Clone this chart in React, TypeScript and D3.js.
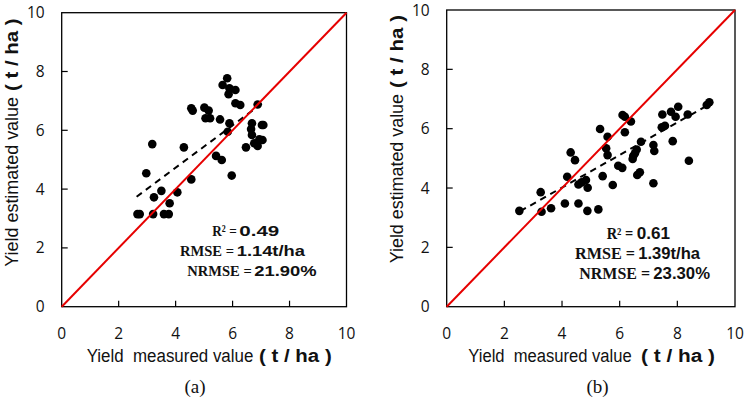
import React from 'react';
import * as d3 from 'd3';

const ticks = [0, 2, 4, 6, 8, 10];

const measuredA = [2.66, 2.74, 3.21, 3.59, 3.76, 2.97, 3.18, 3.24, 3.5, 3.79, 4.06, 4.55, 4.29, 4.55, 4.6, 5.01, 5.16, 5.05, 5.21, 5.42, 5.62, 5.97, 5.56, 5.89, 5.83, 5.81, 5.65, 5.89, 6.1, 5.86, 6.1, 6.27, 6.88, 6.68, 6.65, 7.03, 7.08, 6.68, 6.94, 7.05, 6.76, 6.88, 6.47];
const estimatedA = [3.15, 3.15, 3.15, 3.15, 3.15, 4.54, 5.53, 3.72, 3.94, 3.52, 3.89, 4.33, 5.42, 6.75, 6.67, 6.77, 6.67, 6.41, 6.41, 5.13, 4.99, 4.46, 6.37, 6.24, 5.95, 7.77, 7.54, 7.43, 7.37, 7.23, 6.92, 6.86, 6.88, 6.24, 6.04, 6.18, 6.18, 5.84, 5.69, 5.67, 5.56, 5.47, 5.42];

const measuredB = [2.52, 3.26, 3.29, 3.62, 4.1, 4.57, 4.88, 5.26, 4.18, 4.3, 4.45, 4.57, 4.68, 4.83, 4.89, 5.41, 5.76, 5.32, 5.58, 5.53, 5.58, 5.95, 6.09, 6.1, 6.18, 6.18, 6.39, 6.74, 6.59, 6.47, 6.53, 6.45, 6.7, 6.61, 7.17, 7.2, 7.17, 7.46, 7.57, 7.48, 7.78, 7.94, 8.03, 7.84, 8.36, 8.4, 9.02, 9.11];
const estimatedB = [3.23, 3.86, 3.2, 3.32, 3.48, 3.48, 3.23, 3.28, 4.38, 5.2, 4.94, 4.12, 4.19, 4.27, 4.01, 4.4, 4.1, 5.99, 5.73, 5.34, 5.11, 4.75, 4.68, 6.46, 6.4, 5.88, 6.24, 5.56, 5.3, 5.08, 5.17, 4.98, 4.53, 4.44, 5.45, 5.25, 4.16, 6.05, 6.1, 6.48, 6.57, 6.4, 6.74, 5.58, 6.48, 4.92, 6.8, 6.89];

const trendAX = [2.63, 7.07];
const trendAY = [3.74, 6.94];
const trendBX = [2.55, 9.11];
const trendBY = [3.22, 6.82];

const statLabels = ['R² =', 'RMSE =', 'NRMSE ='];
const statsA = ['0.49', '1.14t/ha', '21.90%'];
const statsB = ['0.61', '1.39t/ha', '23.30%'];
const letters = ['(a)', '(b)'];
const xTitle = 'Yield\u00a0 measured value';
const yTitle = 'Yield estimated value';
const unitTitle = '( t / ha )';

const SANS = '"Liberation Sans", Arial, sans-serif';
const TICKF = '"Open Sans", "Liberation Sans", sans-serif';
const SERIF = '"Liberation Serif", "DejaVu Serif", serif';

type StatPos = { sx: number; sw: number; nx: number; nw: number; y: number };

type PanelProps = {
  left: number; right: number; top: number; bottom: number;
  xs: number[]; ys: number[]; tx: number[]; ty: number[];
  stats: string[]; letter: string;
  yTitleX: number; yMainBottom: number; yMainTop: number; yUnitBottom: number; yUnitTop: number;
  xMainL: number; xMainR: number; xUnitL: number; xUnitR: number;
  statPos: StatPos[]; statFont: number; letterX: number;
};

function Panel(p: PanelProps) {
  const x = d3.scaleLinear().domain([0, 10]).range([p.left, p.right]);
  const y = d3.scaleLinear().domain([0, 10]).range([p.bottom, p.top]);
  const line = d3.line<[number, number]>().x(d => x(d[0])).y(d => y(d[1]));
  const trend: [number, number][] = p.tx.map((v, i) => [v, p.ty[i]] as [number, number]);
  const ident: [number, number][] = [[0, 0], [10, 10]];
  const titleY = p.bottom + 55;
  return (
    <g>
      <rect x={p.left} y={p.top} width={p.right - p.left} height={p.bottom - p.top} fill="none" stroke="#000" strokeWidth={1.3} />
      {ticks.slice(1, -1).map(t => (
        <g key={'t' + t}>
          <line x1={x(t)} x2={x(t)} y1={p.bottom} y2={p.bottom - 6} stroke="#000" strokeWidth={1.2} />
          <line x1={p.left} x2={p.left + 6} y1={y(t)} y2={y(t)} stroke="#000" strokeWidth={1.2} />
        </g>
      ))}
      {ticks.map(t => (
        <g key={'l' + t} fontFamily={TICKF} fontSize={15.5} fill="#111">
          <text x={x(t)} y={p.bottom + 32.6} textAnchor="middle">{t}</text>
          <text x={p.left - 17} y={y(t)} dy="0.36em" textAnchor="end">{t}</text>
        </g>
      ))}
      {p.xs.map((v, i) => (
        <circle key={'p' + i} cx={x(v)} cy={y(p.ys[i])} r={4.3} fill="#000" />
      ))}
      <path d={line(trend) || ''} fill="none" stroke="#000" strokeWidth={2} strokeDasharray="6.5,5" />
      <path d={line(ident) || ''} fill="none" stroke="#e60000" strokeWidth={2} />
      {statLabels.map((lab, i) => {
        const s = p.statPos[i];
        return (
          <g key={'s' + i} fontSize={p.statFont} fill="#111" fontWeight="bold">
            <text x={s.sx} y={s.y} textLength={s.sw} lengthAdjust="spacingAndGlyphs" fontFamily={SERIF}>{lab}</text>
            <text x={s.nx} y={s.y} textLength={s.nw} lengthAdjust="spacingAndGlyphs" fontFamily={SANS}>{p.stats[i]}</text>
          </g>
        );
      })}
      <text x={p.xMainL} y={titleY} fontFamily={SANS} fontSize={18} fill="#111" textLength={p.xMainR - p.xMainL} lengthAdjust="spacingAndGlyphs">{xTitle}</text>
      <text x={p.xUnitL} y={titleY} fontFamily={SANS} fontSize={18} fontWeight="bold" fill="#111" textLength={p.xUnitR - p.xUnitL} lengthAdjust="spacingAndGlyphs">{unitTitle}</text>
      <text transform={`translate(${p.yTitleX},${p.yMainBottom}) rotate(-90)`} fontFamily={SANS} fontSize={18} fill="#111" textLength={p.yMainBottom - p.yMainTop} lengthAdjust="spacingAndGlyphs">{yTitle}</text>
      <text transform={`translate(${p.yTitleX},${p.yUnitBottom}) rotate(-90)`} fontFamily={SANS} fontSize={18} fontWeight="bold" fill="#111" textLength={p.yUnitBottom - p.yUnitTop} lengthAdjust="spacingAndGlyphs">{unitTitle}</text>
      <text x={p.letterX} y={393} textAnchor="middle" fontFamily={SERIF} fontSize={19} fill="#111">{p.letter}</text>
    </g>
  );
}

export default function App() {
  return (
    <svg width={745} height={403} viewBox="0 0 745 403" style={{ position: 'absolute', left: 0, top: 0, background: '#fff' }}>
      <rect x={0} y={0} width={745} height={403} fill="#fff" />
      <Panel
        left={61.7} right={346.5} top={12.7} bottom={306.7}
        xs={measuredA} ys={estimatedA} tx={trendAX} ty={trendAY}
        stats={statsA} letter={letters[0]}
        yTitleX={17.8} yMainBottom={266.7} yMainTop={97} yUnitBottom={91} yUnitTop={18.5}
        xMainL={86.7} xMainR={253.3} xUnitL={259} xUnitR={331.7}
        statPos={[
          { sx: 212.3, sw: 24.4, nx: 239.3, nw: 40, y: 236.3 },
          { sx: 180, sw: 54, nx: 236.7, nw: 68.3, y: 255.5 },
          { sx: 187.3, sw: 64.4, nx: 254.3, nw: 62.4, y: 275.5 },
        ]}
        statFont={15.5}
        letterX={195}
      />
      <Panel
        left={446.7} right={735} top={10} bottom={306.7}
        xs={measuredB} ys={estimatedB} tx={trendBX} ty={trendBY}
        stats={statsB} letter={letters[1]}
        yTitleX={403} yMainBottom={263.3} yMainTop={94} yUnitBottom={88} yUnitTop={15}
        xMainL={468.3} xMainR={631.7} xUnitL={641} xUnitR={715}
        statPos={[
          { sx: 606.7, sw: 26.6, nx: 636.7, nw: 33.3, y: 239.3 },
          { sx: 575, sw: 60, nx: 638.3, nw: 61.7, y: 259.3 },
          { sx: 579.3, sw: 70.7, nx: 653.3, nw: 56.7, y: 279.3 },
        ]}
        statFont={16.5}
        letterX={597.5}
      />
    </svg>
  );
}
